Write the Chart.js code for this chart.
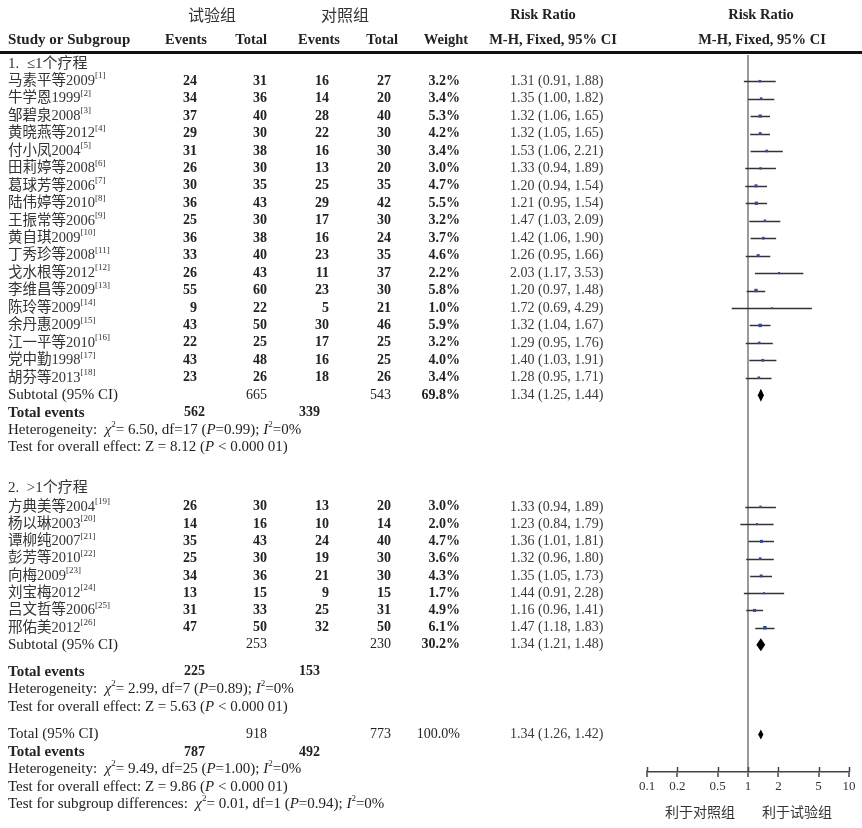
<!DOCTYPE html>
<html>
<head>
<meta charset="utf-8">
<script src="https://cdn.jsdelivr.net/npm/chart.js@4/dist/chart.umd.min.js"></script>
<style>
  html, body { margin: 0; padding: 0; background: #fff; }
  #wrap { width: 862px; height: 828px; }
</style>
</head>
<body>
<div id="wrap"><canvas id="forest" width="862" height="828"></canvas></div>
<script>
// ===============================
// DATOS
// ===============================
// Subgrupo 1: ≤1个疗程
const g1Names = ["马素平等2009", "牛学恩1999", "邹碧泉2008", "黄晓燕等2012", "付小凤2004", "田莉婷等2008",
  "葛球芳等2006", "陆伟婷等2010", "王振常等2006", "黄自琪2009", "丁秀珍等2008", "戈水根等2012",
  "李维昌等2009", "陈玲等2009", "余丹惠2009", "江一平等2010", "党中勤1998", "胡芬等2013"];
const g1Refs = [1, 2, 3, 4, 5, 6, 7, 8, 9, 10, 11, 12, 13, 14, 15, 16, 17, 18];
const g1ExpEvents = [24, 34, 37, 29, 31, 26, 30, 36, 25, 36, 33, 26, 55, 9, 43, 22, 43, 23];
const g1ExpTotal = [31, 36, 40, 30, 38, 30, 35, 43, 30, 38, 40, 43, 60, 22, 50, 25, 48, 26];
const g1CtlEvents = [16, 14, 28, 22, 16, 13, 25, 29, 17, 16, 23, 11, 23, 5, 30, 17, 16, 18];
const g1CtlTotal = [27, 20, 40, 30, 30, 20, 35, 42, 30, 24, 35, 37, 30, 21, 46, 25, 25, 26];
const g1Weight = [3.2, 3.4, 5.3, 4.2, 3.4, 3.0, 4.7, 5.5, 3.2, 3.7, 4.6, 2.2, 5.8, 1.0, 5.9, 3.2, 4.0, 3.4];
const g1RR = [1.31, 1.35, 1.32, 1.32, 1.53, 1.33, 1.20, 1.21, 1.47, 1.42, 1.26, 2.03, 1.20, 1.72, 1.32, 1.29, 1.40, 1.28];
const g1Lo = [0.91, 1.00, 1.06, 1.05, 1.06, 0.94, 0.94, 0.95, 1.03, 1.06, 0.95, 1.17, 0.97, 0.69, 1.04, 0.95, 1.03, 0.95];
const g1Hi = [1.88, 1.82, 1.65, 1.65, 2.21, 1.89, 1.54, 1.54, 2.09, 1.90, 1.66, 3.53, 1.48, 4.29, 1.67, 1.76, 1.91, 1.71];

// Subgrupo 2: >1个疗程
const g2Names = ["方典美等2004", "杨以琳2003", "谭柳纯2007", "彭芳等2010", "向梅2009", "刘宝梅2012", "吕文哲等2006", "邢佑美2012"];
const g2Refs = [19, 20, 21, 22, 23, 24, 25, 26];
const g2ExpEvents = [26, 14, 35, 25, 34, 13, 31, 47];
const g2ExpTotal = [30, 16, 43, 30, 36, 15, 33, 50];
const g2CtlEvents = [13, 10, 24, 19, 21, 9, 25, 32];
const g2CtlTotal = [20, 14, 40, 30, 30, 15, 31, 50];
const g2Weight = [3.0, 2.0, 4.7, 3.6, 4.3, 1.7, 4.9, 6.1];
const g2RR = [1.33, 1.23, 1.36, 1.32, 1.35, 1.44, 1.16, 1.47];
const g2Lo = [0.94, 0.84, 1.01, 0.96, 1.05, 0.91, 0.96, 1.18];
const g2Hi = [1.89, 1.79, 1.81, 1.80, 1.73, 2.28, 1.41, 1.83];

// Resúmenes: [subgrupo 1, subgrupo 2, total]
const sumLabels = ["Subtotal (95% CI)", "Subtotal (95% CI)", "Total (95% CI)"];
const sumExpTotal = [665, 253, 918];
const sumCtlTotal = [543, 230, 773];
const sumWeight = ["69.8%", "30.2%", "100.0%"];
const sumRR = [1.34, 1.34, 1.34];
const sumLo = [1.25, 1.21, 1.26];
const sumHi = [1.44, 1.48, 1.42];
const sumExpEvents = [562, 225, 787];
const sumCtlEvents = [339, 153, 492];
const hetChi2 = ["6.50", "2.99", "9.49"];
const hetDf = [17, 7, 25];
const hetP = ["0.99", "0.89", "1.00"];
const zValue = ["8.12", "5.63", "9.86"];

// Eje X
const xTicks = [0.1, 0.2, 0.5, 1, 2, 5, 10];

// ===============================
// POSICIONES DE FILAS (unidades de línea)
// ===============================
const ROW = {
  g1Head: 0, g1Start: 1, g1Step: 1, g1Sub: 19, g1TE: 20, g1Het: 21, g1Test: 22,
  g2Head: 24.3, g2Start: 25.4, g2Step: 0.99, g2Sub: 33.3, g2TE: 34.85, g2Het: 35.85, g2Test: 36.85,
  tot: 38.45, totTE: 39.45, totHet: 40.45, totTest: 41.45, subTest: 42.45
};
const g1Rows = g1Names.map((_, i) => ROW.g1Start + i * ROW.g1Step);
const g2Rows = g2Names.map((_, i) => ROW.g2Start + i * ROW.g2Step);
const sumRows = [ROW.g1Sub, ROW.g2Sub, ROW.tot];

const SERIF = '"Liberation Serif", "Noto Sans CJK SC", serif';
const CJK = '"Noto Sans CJK SC", sans-serif';
const INK = "#222";

// Columnas (borde derecho de cada columna numérica)
const COL = { name: 8, expEv: 197, expTot: 267, ctlEv: 329, ctlTot: 391, weight: 460, ci: 510, teExp: 205, teCtl: 320 };

// ===============================
// TEXTO CON FORMATO
// ===============================
function rich(ctx, parts, x, y, size) {
  let cx = x;
  parts.forEach(([t, k]) => {
    let fs = size, dy = 0, st = "";
    if (k === "i") st = "italic ";
    if (k === "b") st = "bold ";
    if (k === "sup") { fs = Math.round(size * 0.6); dy = -size * 0.35; }
    ctx.font = st + fs + "px " + SERIF;
    ctx.fillText(t, cx, y + dy);
    cx += ctx.measureText(t).width;
  });
  return cx;
}

function txt(ctx, t, x, y, align, font, color) {
  ctx.font = font;
  ctx.textAlign = align;
  ctx.fillStyle = color || INK;
  ctx.fillText(t, x, y);
  ctx.textAlign = "left";
}

function ciText(rr, lo, hi) {
  return rr.toFixed(2) + " (" + lo.toFixed(2) + ", " + hi.toFixed(2) + ")";
}

// ===============================
// PLUGIN: IC, DIAMANTES Y TABLA
// ===============================
const forestPlugin = {
  id: "forest",
  beforeDatasetsDraw(chart) {
    const { ctx, scales: { x, y } } = chart;
    ctx.save();
    // Líneas de intervalo de confianza
    ctx.strokeStyle = "#333";
    ctx.lineWidth = 1.5;
    const lines = (rows, lo, hi) => rows.forEach((r, i) => {
      const py = Math.round(y.getPixelForValue(r)) + 0.5;
      ctx.beginPath();
      ctx.moveTo(x.getPixelForValue(lo[i]), py);
      ctx.lineTo(x.getPixelForValue(hi[i]), py);
      ctx.stroke();
    });
    lines(g1Rows, g1Lo, g1Hi);
    lines(g2Rows, g2Lo, g2Hi);

    // Diamantes
    ctx.fillStyle = "#000";
    sumRows.forEach((r, i) => {
      const py = y.getPixelForValue(r);
      const h = i === 2 ? 5 : 6.5;
      ctx.beginPath();
      ctx.moveTo(x.getPixelForValue(sumLo[i]), py);
      ctx.lineTo(x.getPixelForValue(sumRR[i]), py - h);
      ctx.lineTo(x.getPixelForValue(sumHi[i]), py);
      ctx.lineTo(x.getPixelForValue(sumRR[i]), py + h);
      ctx.closePath();
      ctx.fill();
    });

    // Parte superior de las marcas del eje
    ctx.strokeStyle = "#444";
    ctx.lineWidth = 1.5;
    const ay = chart.chartArea.bottom;
    x.ticks.forEach(t => {
      const px = Math.round(x.getPixelForValue(t.value)) + 0.5;
      ctx.beginPath();
      ctx.moveTo(px, ay - 5);
      ctx.lineTo(px, ay);
      ctx.stroke();
    });
    ctx.restore();
  },
  afterDraw(chart) {
    const { ctx, scales: { x, y } } = chart;
    ctx.save();
    ctx.textBaseline = "middle";
    const B = "bold 14px " + SERIF;
    const R = "14px " + SERIF;
    const HB = "bold 14.5px " + SERIF;
    const LB = "bold 15px " + SERIF;
    const LR = "15px " + SERIF;

    // Encabezados
    txt(ctx, "试验组", 212, 15, "center", "16px " + CJK, "#333");
    txt(ctx, "对照组", 345, 15, "center", "16px " + CJK, "#333");
    txt(ctx, "Risk Ratio", 543, 15, "center", HB);
    txt(ctx, "Risk Ratio", 761, 15, "center", HB);
    txt(ctx, "Study or Subgroup", COL.name, 40, "left", LB);
    txt(ctx, "Events", 186, 40, "center", HB);
    txt(ctx, "Total", 267, 40, "right", HB);
    txt(ctx, "Events", 319, 40, "center", HB);
    txt(ctx, "Total", 398, 40, "right", HB);
    txt(ctx, "Weight", 446, 40, "center", HB);
    txt(ctx, "M-H, Fixed, 95% CI", 553, 40, "center", HB);
    txt(ctx, "M-H, Fixed, 95% CI", 762, 40, "center", HB);

    // Línea gruesa del encabezado
    ctx.fillStyle = "#111";
    ctx.fillRect(0, 51, 862, 3);

    const py = r => y.getPixelForValue(r);

    // Estudios
    const studies = (rows, names, refs, ee, et, ce, ct, w, rr, lo, hi) => rows.forEach((r, i) => {
      const yy = py(r);
      ctx.fillStyle = "#333";
      rich(ctx, [[names[i], ""], ["[" + refs[i] + "]", "sup"]], COL.name, yy, 14.5);
      txt(ctx, String(ee[i]), COL.expEv, yy, "right", B);
      txt(ctx, String(et[i]), COL.expTot, yy, "right", B);
      txt(ctx, String(ce[i]), COL.ctlEv, yy, "right", B);
      txt(ctx, String(ct[i]), COL.ctlTot, yy, "right", B);
      txt(ctx, w[i].toFixed(1) + "%", COL.weight, yy, "right", B);
      txt(ctx, ciText(rr[i], lo[i], hi[i]), COL.ci, yy, "left", R, "#3a3a3a");
    });

    txt(ctx, "1.  ≤1个疗程", COL.name, py(ROW.g1Head), "left", LR, "#333");
    studies(g1Rows, g1Names, g1Refs, g1ExpEvents, g1ExpTotal, g1CtlEvents, g1CtlTotal, g1Weight, g1RR, g1Lo, g1Hi);
    txt(ctx, "2.  >1个疗程", COL.name, py(ROW.g2Head), "left", LR, "#333");
    studies(g2Rows, g2Names, g2Refs, g2ExpEvents, g2ExpTotal, g2CtlEvents, g2CtlTotal, g2Weight, g2RR, g2Lo, g2Hi);

    // Resúmenes
    const teRows = [ROW.g1TE, ROW.g2TE, ROW.totTE];
    const hetRows = [ROW.g1Het, ROW.g2Het, ROW.totHet];
    const testRows = [ROW.g1Test, ROW.g2Test, ROW.totTest];
    sumRows.forEach((r, i) => {
      const yy = py(r);
      txt(ctx, sumLabels[i], COL.name, yy, "left", LR);
      txt(ctx, String(sumExpTotal[i]), COL.expTot, yy, "right", R);
      txt(ctx, String(sumCtlTotal[i]), COL.ctlTot, yy, "right", R);
      txt(ctx, sumWeight[i], COL.weight, yy, "right", i === 2 ? R : B);
      txt(ctx, ciText(sumRR[i], sumLo[i], sumHi[i]), COL.ci, yy, "left", R, "#3a3a3a");

      const ty = py(teRows[i]);
      txt(ctx, "Total events", COL.name, ty, "left", LB);
      txt(ctx, String(sumExpEvents[i]), COL.teExp, ty, "right", B);
      txt(ctx, String(sumCtlEvents[i]), COL.teCtl, ty, "right", B);

      ctx.fillStyle = INK;
      rich(ctx, [["Heterogeneity:  ", ""], ["χ", "i"], ["2", "sup"], ["= " + hetChi2[i] + ", df=" + hetDf[i] + " (", ""],
        ["P", "i"], ["=" + hetP[i] + "); ", ""], ["I", "i"], ["2", "sup"], ["=0%", ""]], COL.name, py(hetRows[i]), 15);
      rich(ctx, [["Test for overall effect: Z = " + zValue[i] + " (", ""], ["P", "i"], [" < 0.000 01)", ""]],
        COL.name, py(testRows[i]), 15);
    });
    rich(ctx, [["Test for subgroup differences:  ", ""], ["χ", "i"], ["2", "sup"], ["= 0.01, df=1 (", ""],
      ["P", "i"], ["=0.94); ", ""], ["I", "i"], ["2", "sup"], ["=0%", ""]], COL.name, py(ROW.subTest), 15);

    // Rótulos bajo el eje
    txt(ctx, "利于对照组", 700, 812, "center", "14px " + CJK, "#333");
    txt(ctx, "利于试验组", 797, 812, "center", "14px " + CJK, "#333");
    ctx.restore();
  }
};

// ===============================
// GRÁFICA
// ===============================
const points = g1RR.map((v, i) => ({ x: v, y: g1Rows[i] }))
  .concat(g2RR.map((v, i) => ({ x: v, y: g2Rows[i] })));
const radii = g1Weight.concat(g2Weight).map(w => 1 + w * 0.24);

new Chart(document.getElementById("forest"), {
  type: "scatter",
  data: {
    datasets: [{
      data: points,
      pointStyle: "rect",
      pointRadius: radii,
      backgroundColor: "#34489a",
      borderWidth: 0
    }]
  },
  options: {
    responsive: false,
    animation: false,
    layout: { padding: { left: 647, right: 13, top: 55, bottom: 32 } },
    plugins: { legend: { display: false }, tooltip: { enabled: false } },
    scales: {
      x: {
        type: "logarithmic",
        min: 0.1,
        max: 10,
        afterBuildTicks: axis => { axis.ticks = xTicks.map(v => ({ value: v })); },
        afterFit: axis => { axis.height = 24; },
        ticks: {
          callback: v => String(v),
          color: "#333",
          font: { family: SERIF, size: 13 },
          padding: 2,
          autoSkip: false,
          maxRotation: 0
        },
        grid: {
          drawOnChartArea: true,
          color: c => (c.tick && c.tick.value === 1 ? "#9a9a9a" : "rgba(0,0,0,0)"),
          lineWidth: 2,
          tickColor: "#444",
          tickLength: 5,
          tickWidth: 1.5
        },
        border: { display: true, color: "#444", width: 1.5 }
      },
      y: {
        type: "linear",
        display: false,
        reverse: true,
        min: -0.5,
        max: 40.6
      }
    }
  },
  plugins: [forestPlugin]
});
</script>
</body>
</html>
